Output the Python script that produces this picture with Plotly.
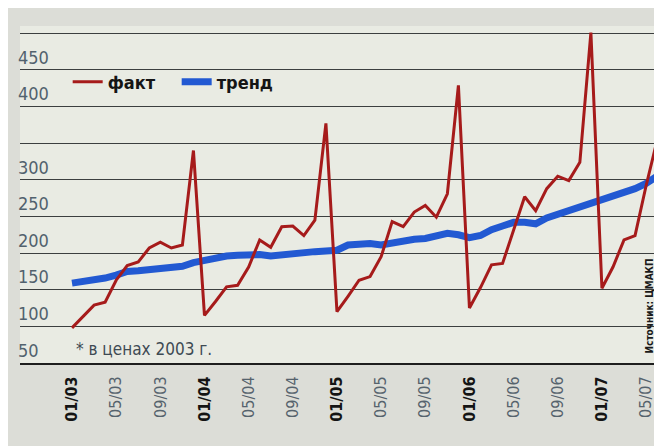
import plotly.graph_objects as go

months = ["01/03","02/03","03/03","04/03","05/03","06/03","07/03","08/03","09/03","10/03","11/03","12/03",
          "01/04","02/04","03/04","04/04","05/04","06/04","07/04","08/04","09/04","10/04","11/04","12/04",
          "01/05","02/05","03/05","04/05","05/05","06/05","07/05","08/05","09/05","10/05","11/05","12/05",
          "01/06","02/06","03/06","04/06","05/06","06/06","07/06","08/06","09/06","10/06","11/06","12/06",
          "01/07","02/07","03/07","04/07","05/07","06/07"]

fact = [98, 113, 129, 133, 163, 183, 188, 207, 215, 207, 211, 340,
        115, 134, 154, 156, 181, 218, 208, 236, 237, 224, 245, 377,
        120, 141, 163, 168, 195, 243, 236, 256, 265, 249, 281, 429,
        125, 153, 184, 186, 233, 277, 258, 288, 305, 299, 324, 501,
        152, 181, 218, 224, 292, 354]

trend = [159, 161, 163, 166, 170, 175, 176, 177, 179, 180, 182, 187,
         190, 195, 196, 197, 198, 198, 196, 198, 200, 201, 202, 203,
         204, 211, 213, 213, 211, 214, 218, 219, 220, 223, 227, 225,
         221, 224, 232, 237, 242, 242, 240, 248, 253, 257, 261, 266,
         272, 277, 282, 288, 295, 305]

x_ticks = ["01/03","05/03","09/03","01/04","05/04","09/04","01/05","05/05","09/05",
           "01/06","05/06","09/06","01/07","05/07"]
y_ticks = [50, 100, 150, 200, 250, 300, 350, 400, 450, 500]
y_labels = ["50", "100", "150", "200", "250", "300", "", "400", "450", ""]

FONT = "DejaVu Sans Condensed, Liberation Sans Narrow, Arial Narrow, sans-serif"

def fmt_tick(t):
    if t.startswith("01/"):
        return "<span style='color:#141414'><b>" + t + "</b></span>"
    return t

fig = go.Figure()
fig.add_trace(go.Scatter(x=months, y=trend, mode="lines", name="<b>тренд</b>",
                         line=dict(color="#2259d2", width=7)))
fig.add_trace(go.Scatter(x=months, y=fact, mode="lines", name="<b>факт</b>",
                         line=dict(color="#a61b1b", width=3)))

fig.update_layout(
    width=654, height=438,
    margin=dict(l=12, r=2, t=18, b=83),
    paper_bgcolor="#dcddd7",
    plot_bgcolor="#e9ebe3",
    font=dict(family=FONT, color="#4f5e69"),
    showlegend=True,
    legend=dict(orientation="h", traceorder="reversed",
                x=0.0745, y=0.834, xanchor="left", yanchor="middle",
                bgcolor="rgba(0,0,0,0)", font=dict(size=18, color="#151515", family=FONT),
                entrywidth=64, entrywidthmode="pixels"),
    xaxis=dict(type="category", range=[-4.71, 53.26],
               tickvals=x_ticks, ticktext=[fmt_tick(t) for t in x_ticks],
               tickangle=-90, tickfont=dict(size=16, color="#56636d"),
               showgrid=False, ticks="", ticklabelstandoff=5,
               showline=True, linecolor="#1e1e1e", linewidth=2, zeroline=False),
    yaxis=dict(range=[50, 510], tickvals=y_ticks, ticktext=y_labels,
               ticklabelposition="inside top", ticklabelstandoff=-5,
               tickfont=dict(size=18, color="#52626e"),
               showgrid=True, gridcolor="#3c3f3f", gridwidth=1, zeroline=False,
               ticks="", showline=False),
    annotations=[
        dict(text="* в ценах 2003 г.", xref="paper", yref="paper", x=0.084, y=0.043,
             xanchor="left", yanchor="middle", showarrow=False,
             font=dict(size=17, color="#3e4a53", family=FONT)),
        dict(text="<b>Источник: ЦМАКП</b>", xref="paper", yref="paper", x=0.984, y=0.17,
             xanchor="center", yanchor="middle", showarrow=False, textangle=-90,
             font=dict(size=10, color="#1a1a1a", family=FONT)),
    ],
)

fig.write_html("out.html")
